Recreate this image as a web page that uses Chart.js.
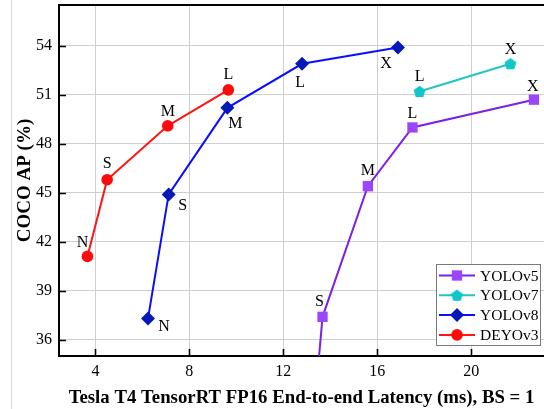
<!DOCTYPE html>
<html>
<head>
<meta charset="utf-8">
<script src="https://cdn.jsdelivr.net/npm/chart.js@4.4.1/dist/chart.umd.min.js"></script>
<style>
  html, body { margin: 0; padding: 0; background: #fff; }
  #wrap { width: 544px; height: 409px; }
</style>
</head>
<body>
<div id="wrap"><canvas id="chart"></canvas></div>
<script>
// values
const sizeNames = ['N', 'S', 'M', 'L', 'X'];
const yolov5Latency = [13.1, 13.67, 15.6, 17.5, 22.67];
const yolov5AP = [28.0, 37.4, 45.4, 49.0, 50.7];
const yolov7Names = ['L', 'X'];
const yolov7Latency = [17.8, 21.67];
const yolov7AP = [51.2, 52.9];
const yolov8Latency = [6.24, 7.12, 9.62, 12.8, 16.88];
const yolov8AP = [37.3, 44.9, 50.2, 52.9, 53.9];
const deyov3Names = ['N', 'S', 'M', 'L'];
const deyov3Latency = [3.66, 4.5, 7.08, 9.66];
const deyov3AP = [41.1, 45.8, 49.1, 51.3];
const xTicks = [4, 8, 12, 16, 20];
const yTicks = [36, 39, 42, 45, 48, 51, 54];

const serif = 'Liberation Serif, Times New Roman, serif';

function toPoints(xs, ys) {
  return xs.map((x, i) => ({ x: x, y: ys[i] }));
}

// Chart.js has no pentagon, so make one as an image
function pentagon(r, color) {
  const c = document.createElement('canvas');
  const s = Math.ceil(r * 2) + 2;
  c.width = s; c.height = s;
  const g = c.getContext('2d');
  g.fillStyle = color;
  g.beginPath();
  for (let k = 0; k < 5; k++) {
    const a = -Math.PI / 2 + k * 2 * Math.PI / 5;
    const px = s / 2 + r * Math.cos(a);
    const py = s / 2 + 0.5 + r * Math.sin(a);
    if (k === 0) g.moveTo(px, py); else g.lineTo(px, py);
  }
  g.closePath();
  g.fill();
  return c;
}

const datasets = [
  {
    label: 'YOLOv5',
    data: toPoints(yolov5Latency, yolov5AP),
    names: sizeNames,
    nameOffsets: [[0, -14], [-3, -15], [0, -15], [0, -14], [-1, -13]],
    borderColor: '#7c1fe8',
    backgroundColor: '#9b45ff',
    pointStyle: 'rect',
    pointRadius: 7.3,
    pointBorderWidth: 0
  },
  {
    label: 'YOLOv7',
    data: toPoints(yolov7Latency, yolov7AP),
    names: yolov7Names,
    nameOffsets: [[0, -15], [0, -14]],
    borderColor: '#22c4c6',
    backgroundColor: '#10c6c8',
    pointStyle: pentagon(6.3, '#10c6c8'),
    pointRadius: 6,
    pointBorderWidth: 0
  },
  {
    label: 'YOLOv8',
    data: toPoints(yolov8Latency, yolov8AP),
    names: sizeNames,
    nameOffsets: [[16, 8], [14, 11], [8, 16], [-2, 19], [-12, 16]],
    borderColor: '#0a10ff',
    backgroundColor: '#0519b8',
    pointStyle: 'rectRot',
    pointRadius: 7,
    pointBorderWidth: 0
  },
  {
    label: 'DEYOv3',
    data: toPoints(deyov3Latency, deyov3AP),
    names: deyov3Names,
    nameOffsets: [[-5, -14], [0, -16], [0, -14], [0, -15]],
    borderColor: '#ff1414',
    backgroundColor: '#ff0a0a',
    pointStyle: 'circle',
    pointRadius: 5.8,
    pointBorderWidth: 0
  }
];
datasets.forEach(d => {
  d.borderWidth = 2;
  d.showLine = true;
  d.tension = 0;
  d.pointHoverRadius = d.pointRadius;
});

function drawMarker(ctx, ds, x, y) {
  const style = ds.pointStyle;
  if (typeof style === 'object') {
    ctx.drawImage(style, x - style.width / 2, y - style.height / 2, style.width, style.height);
    return;
  }
  ctx.fillStyle = ds.backgroundColor;
  Chart.helpers.drawPoint(ctx, { pointStyle: style, radius: ds.pointRadius, rotation: 0, borderWidth: 0 }, x, y);
}

const decor = {
  id: 'decor',
  beforeDraw(chart) {
    const ctx = chart.ctx;
    ctx.save();
    ctx.strokeStyle = '#dcdcdc';
    ctx.lineWidth = 1;
    ctx.beginPath();
    ctx.moveTo(11.5, 0);
    ctx.lineTo(11.5, chart.height);
    ctx.stroke();
    ctx.restore();
  },
  afterDraw(chart) {
    const ctx = chart.ctx;
    const a = chart.chartArea;
    const xs = chart.scales.x, ys = chart.scales.y;
    ctx.save();

    // top frame line
    ctx.strokeStyle = '#000';
    ctx.lineWidth = 2;
    ctx.beginPath();
    ctx.moveTo(a.left, a.top);
    ctx.lineTo(a.right, a.top);
    ctx.stroke();

    // inward tick marks
    ctx.lineWidth = 1.6;
    ctx.beginPath();
    xTicks.forEach(v => {
      const px = Math.round(xs.getPixelForValue(v)) + 0.5;
      ctx.moveTo(px, a.bottom);
      ctx.lineTo(px, a.bottom - 7);
    });
    yTicks.forEach(v => {
      const py = Math.round(ys.getPixelForValue(v)) + 0.5;
      ctx.moveTo(a.left, py);
      ctx.lineTo(a.left + 7, py);
    });
    ctx.stroke();

    // size labels next to points
    ctx.fillStyle = '#000';
    ctx.font = '16px ' + serif;
    ctx.textAlign = 'center';
    ctx.textBaseline = 'middle';
    chart.data.datasets.forEach((ds, di) => {
      chart.getDatasetMeta(di).data.forEach((pt, i) => {
        if (pt.y > a.bottom || pt.y < a.top) return;
        const off = ds.nameOffsets[i];
        ctx.fillText(ds.names[i], pt.x + off[0], pt.y + off[1]);
      });
    });

    // legend box, bottom right inside the plot
    const w = 104, h = 81;
    const left = a.right - 4 - w, top = a.bottom - 11 - h;
    ctx.fillStyle = '#fff';
    ctx.fillRect(left, top, w, h);
    ctx.strokeStyle = '#7a7a7a';
    ctx.lineWidth = 1;
    ctx.strokeRect(left + 0.5, top + 0.5, w, h);
    ctx.font = '15.5px ' + serif;
    ctx.textAlign = 'left';
    chart.data.datasets.forEach((ds, i) => {
      const y = top + 11.5 + i * 19.8;
      ctx.strokeStyle = ds.borderColor;
      ctx.lineWidth = 2;
      ctx.beginPath();
      ctx.moveTo(left + 3, y);
      ctx.lineTo(left + 39, y);
      ctx.stroke();
      drawMarker(ctx, ds, left + 21, y);
      ctx.fillStyle = '#000';
      ctx.fillText(ds.label, left + 44, y + 1);
    });
    ctx.restore();
  }
};

const chart = new Chart(document.getElementById('chart'), {
  type: 'scatter',
  data: { datasets: datasets },
  options: {
    responsive: true,
    maintainAspectRatio: false,
    animation: false,
    layout: { autoPadding: false, padding: { top: 5, right: 0, left: 0, bottom: 0 } },
    plugins: {
      legend: { display: false },
      tooltip: { enabled: false }
    },
    scales: {
      x: {
        type: 'linear',
        min: 2.45,
        max: 23.1,
        afterBuildTicks: s => { s.ticks = xTicks.map(v => ({ value: v })); },
        afterFit: s => { s.height = 53; s.paddingLeft = 0; s.paddingRight = 0; },
        grid: { color: '#cfcfcf', lineWidth: 1, drawTicks: false },
        border: { color: '#000', width: 2 },
        ticks: { color: '#000', font: { family: serif, size: 16 }, padding: 6, maxRotation: 0 },
        title: {
          display: true,
          text: 'Tesla T4 TensorRT FP16 End-to-end Latency (ms), BS = 1',
          color: '#000',
          font: { family: serif, size: 18.8, weight: 'bold' },
          padding: { top: 0, bottom: 0 }
        }
      },
      y: {
        type: 'linear',
        min: 35,
        max: 56.5,
        afterBuildTicks: s => { s.ticks = yTicks.map(v => ({ value: v })); },
        afterFit: s => { s.width = 59; s.paddingTop = 0; s.paddingBottom = 0; },
        grid: { color: '#cfcfcf', lineWidth: 1, drawTicks: false },
        border: { color: '#000', width: 2 },
        ticks: { color: '#000', font: { family: serif, size: 16 }, padding: 7 },
        title: {
          display: true,
          text: 'COCO AP (%)',
          color: '#000',
          font: { family: serif, size: 19, weight: 'bold' },
          padding: { top: 14, bottom: 0 }
        }
      }
    }
  },
  plugins: [decor]
});
</script>
</body>
</html>
